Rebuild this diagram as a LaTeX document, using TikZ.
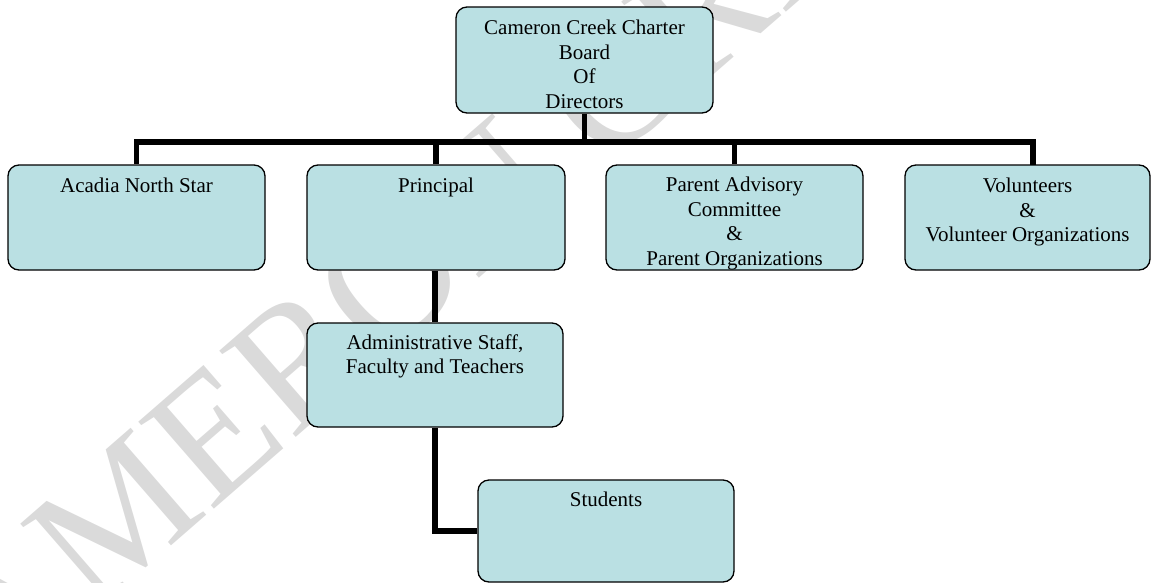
\documentclass[tikz,border=0pt]{standalone}
\usepackage{fontspec}
\setmainfont{Liberation Serif}
\definecolor{boxfill}{RGB}{186,224,227}
\definecolor{wmgray}{RGB}{218,218,218}
\begin{document}
\begin{tikzpicture}[x=1pt,y=-1pt,
  orgbox/.style={draw=black, line width=1.3pt, rounded corners=11pt, fill=boxfill, inner sep=0pt},
  lbl/.style={font=\fontsize{21}{24.5}\selectfont, align=center, inner sep=0pt, anchor=north},
  conn/.style={line width=5.5pt, line join=miter},
  wm/.style={font=\fontsize{176}{176}\selectfont, text=wmgray, inner sep=0pt}]
\useasboundingbox (0,0) rectangle (1152,582);
% watermark
\begin{scope}
\clip (0,0) rectangle (1152,582);
\node[wm, rotate=41, anchor=base west] (wmark) at (-92.6,775.5) {CAMERON CREEK CHARTER};
\end{scope}
% boxes
\node[orgbox, minimum width=257pt, minimum height=106pt] (board) at (584.5,60) {};
\node[orgbox, minimum width=257pt, minimum height=105pt] (acadia) at (136.5,217.5) {};
\node[orgbox, minimum width=258pt, minimum height=105pt] (principal) at (436,217.5) {};
\node[orgbox, minimum width=257pt, minimum height=105pt] (parent) at (734.5,217.5) {};
\node[orgbox, minimum width=245pt, minimum height=105pt] (volunteers) at (1027.5,217.5) {};
\node[orgbox, minimum width=256pt, minimum height=104pt] (admin) at (435,375) {};
\node[orgbox, minimum width=256pt, minimum height=102pt] (students) at (606,531) {};
% connectors
\coordinate (busy) at (0,142);
\coordinate (vstem) at (1033,165);
\draw[conn] (acadia.north) |- (vstem |- busy) -- (vstem);
\draw[conn] (board.south) -- (board.south |- busy);
\draw[conn] (principal.north) -- (principal.north |- busy);
\draw[conn] (parent.north) -- (parent.north |- busy);
\draw[conn] (admin.north) -- (admin.north |- principal.south);
\draw[conn] (admin.south) |- (students.west);
% labels
\node[lbl] (boardT) at ([yshift=-13.5pt]board.north) {Cameron Creek Charter\\Board\\Of\\Directors};
\node[lbl] (acadiaT) at ([yshift=-13.5pt]acadia.north) {Acadia North Star};
\node[lbl] (principalT) at ([yshift=-13.5pt]principal.north) {Principal};
\node[lbl] (parentT) at ([yshift=-12.5pt]parent.north) {Parent Advisory\\Committee\\\&\\Parent Organizations};
\node[lbl] (volunteersT) at ([yshift=-13.5pt]volunteers.north) {Volunteers\\\&\\Volunteer Organizations};
\node[lbl] (adminT) at ([yshift=-12pt]admin.north) {Administrative Staff,\\Faculty and Teachers};
\node[lbl] (studentsT) at ([yshift=-12pt]students.north) {Students};
\end{tikzpicture}
\end{document}
